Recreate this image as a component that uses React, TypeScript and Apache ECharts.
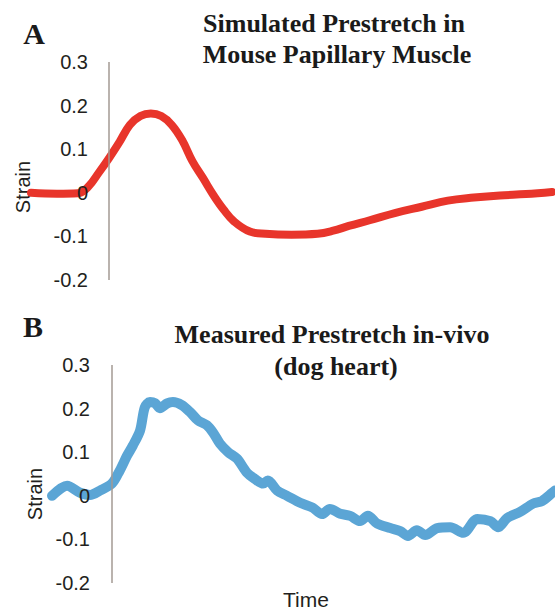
import React, { useEffect, useRef } from "react";
import * as echarts from "echarts";

// Panel A: simulated prestretch (time units, strain)
const simTime = [-15, -10, -6, -4, -2, 0, 2, 4, 6, 8, 10, 12, 14, 16, 18, 20, 22, 24, 27, 30, 35, 40, 43, 46, 50, 55, 60, 65, 70, 75, 80, 85];
const simStrain = [0, -0.002, -0.001, 0.014, 0.046, 0.08, 0.117, 0.156, 0.176, 0.182, 0.176, 0.156, 0.121, 0.072, 0.034, -0.005, -0.039, -0.066, -0.089, -0.094, -0.096, -0.094, -0.087, -0.076, -0.063, -0.046, -0.032, -0.018, -0.011, -0.006, -0.003, 0.002];

// Panel B: measured prestretch in the dog heart
const measTime = [-11.5, -8.6, -6.1, -4.2, -2.3, 0, 1.5, 2.9, 4.0, 5.4, 6.3, 7.3, 8.3, 9.2, 10.6, 11.7, 13.4, 15.0, 16.5, 18.2, 19.4, 20.7, 22.3, 24.0, 25.9, 27.4, 29.0, 29.9, 31.7, 33.6, 36.1, 38.5, 40.3, 41.8, 43.8, 45.7, 47.6, 49.1, 50.9, 53.4, 55.3, 56.8, 58.5, 60.1, 62.4, 64.9, 67.4, 70.1, 72.6, 74.1, 75.8, 78.3, 80.8, 82.5, 84.5, 85];
const measStrain = [0.0, 0.023, 0.007, 0.002, 0.012, 0.028, 0.058, 0.092, 0.115, 0.15, 0.203, 0.215, 0.212, 0.201, 0.212, 0.215, 0.208, 0.192, 0.173, 0.162, 0.145, 0.12, 0.1, 0.085, 0.053, 0.039, 0.028, 0.035, 0.012, 0.0, -0.016, -0.027, -0.042, -0.03, -0.041, -0.046, -0.058, -0.046, -0.064, -0.074, -0.081, -0.092, -0.079, -0.09, -0.074, -0.072, -0.085, -0.053, -0.058, -0.072, -0.051, -0.037, -0.018, -0.012, 0.007, 0.012];

const yMin = -0.2;
const yMax = 0.3;
const yStep = 0.1;
const stimulusTime = 0;

const sans = "'Liberation Sans', Arial, sans-serif";
const serif = "'Liberation Serif', 'Times New Roman', serif";

const pairs = (xs: number[], ys: number[]) => xs.map((x, i) => [x, ys[i]]);

// Tick labels sit inside the plot, right-aligned just left of the stimulus line
const strainAxis = (gridIndex: number, margin: number) => ({
  gridIndex,
  type: "value",
  min: yMin,
  max: yMax,
  interval: yStep,
  z: 3,
  axisLine: { show: false, onZero: false },
  axisTick: { show: false },
  splitLine: { show: false },
  axisLabel: {
    margin,
    fontSize: 20,
    color: "#231f20",
    fontFamily: sans,
    formatter: (v: number) => String(Math.round(v * 10) / 10),
  },
});

const stimulusLine = {
  silent: true,
  symbol: "none",
  label: { show: false },
  lineStyle: { color: "#a39a93", width: 1.5, type: "solid" },
  data: [{ xAxis: stimulusTime }],
};

export default function App() {
  const ref = useRef<HTMLDivElement>(null);

  useEffect(() => {
    if (!ref.current) return;
    const chart = echarts.init(ref.current, null, { renderer: "svg" });
    chart.setOption({
      animation: false,
      backgroundColor: "#ffffff",
      grid: [
        { left: 31, top: 62, width: 521, height: 218, containLabel: false, outerBoundsMode: "none" },
        { left: 52, top: 365, width: 503, height: 218, containLabel: false, outerBoundsMode: "none" },
      ],
      xAxis: [
        { gridIndex: 0, type: "value", min: -15, max: 85, show: false, axisLine: { onZero: false } },
        { gridIndex: 1, type: "value", min: -11.5, max: 85, show: false, axisLine: { onZero: false } },
      ],
      yAxis: [strainAxis(0, -57), strainAxis(1, -38)],
      series: [
        {
          type: "line",
          xAxisIndex: 0,
          yAxisIndex: 0,
          data: pairs(simTime, simStrain),
          showSymbol: false,
          smooth: 0.4,
          z: 2,
          lineStyle: { color: "#e8352b", width: 8, cap: "round", join: "round" },
          markLine: stimulusLine,
        },
        {
          type: "line",
          xAxisIndex: 1,
          yAxisIndex: 1,
          data: pairs(measTime, measStrain),
          showSymbol: false,
          smooth: 0.3,
          z: 2,
          lineStyle: { color: "#5ba5d5", width: 10, cap: "round", join: "round" },
          markLine: stimulusLine,
        },
      ],
      graphic: [
        { type: "text", x: 34, y: 33, style: { text: "A", font: `bold 30px ${serif}`, fill: "#1a1a1a", align: "center", verticalAlign: "middle" } },
        { type: "text", x: 33, y: 326, style: { text: "B", font: `bold 30px ${serif}`, fill: "#1a1a1a", align: "center", verticalAlign: "middle" } },
        { type: "text", x: 334, y: 23, style: { text: "Simulated Prestretch in", font: `bold 26px ${serif}`, fill: "#1a1a1a", align: "center", verticalAlign: "middle" } },
        { type: "text", x: 337, y: 54, style: { text: "Mouse Papillary Muscle", font: `bold 26px ${serif}`, fill: "#1a1a1a", align: "center", verticalAlign: "middle" } },
        { type: "text", x: 332, y: 334, style: { text: "Measured Prestretch in-vivo", font: `bold 26px ${serif}`, fill: "#1a1a1a", align: "center", verticalAlign: "middle" } },
        { type: "text", x: 336, y: 366, style: { text: "(dog heart)", font: `bold 26px ${serif}`, fill: "#1a1a1a", align: "center", verticalAlign: "middle" } },
        { type: "text", x: 23, y: 187, rotation: Math.PI / 2, style: { text: "Strain", font: `20px ${sans}`, fill: "#231f20", align: "center", verticalAlign: "middle" } },
        { type: "text", x: 35, y: 494, rotation: Math.PI / 2, style: { text: "Strain", font: `20px ${sans}`, fill: "#231f20", align: "center", verticalAlign: "middle" } },
        { type: "text", x: 306, y: 599, style: { text: "Time", font: `21px ${sans}`, fill: "#231f20", align: "center", verticalAlign: "middle" } },
      ],
    });
    return () => chart.dispose();
  }, []);

  return <div ref={ref} style={{ position: "absolute", left: 0, top: 0, width: 555, height: 612 }} />;
}
